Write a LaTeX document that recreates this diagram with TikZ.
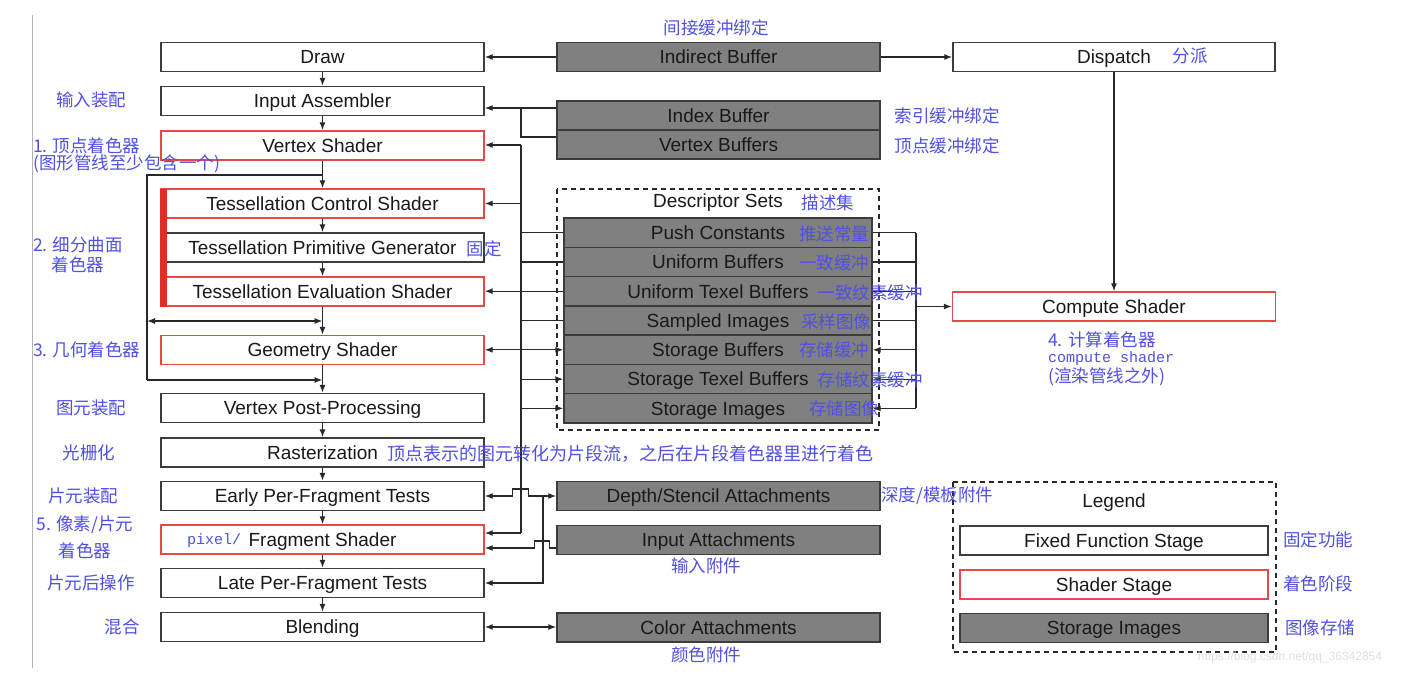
\documentclass[tikz,border=0pt]{standalone}
\usepackage{fontspec}
\setmainfont{Liberation Sans}
\newfontfamily\cjk{Noto Sans CJK SC}
\newfontfamily\monof{Liberation Mono}
\usetikzlibrary{arrows.meta}
\definecolor{annc}{RGB}{80,80,225}
\definecolor{stor}{RGB}{128,128,128}
\definecolor{shred}{RGB}{232,72,72}
\definecolor{barred}{RGB}{225,45,35}
\definecolor{ln}{RGB}{40,40,40}
\definecolor{bx}{RGB}{60,60,60}
\tikzset{
  box/.style={draw=bx, line width=1.4pt, minimum width=323pt, minimum height=29pt, inner sep=0pt, text height=13.6pt, text depth=0pt, font=\fontsize{19}{22}\selectfont, text=black!90},
  ffs/.style={box, fill=white},
  shs/.style={box, draw=shred, fill=white},
  sto/.style={box, fill=stor},
  row/.style={sto, minimum width=308pt, minimum height=29.3pt},
  ann/.style={font=\cjk\fontsize{17.5}{21}\selectfont, text=annc, inner sep=0pt},
  annm/.style={font=\monof\fontsize{15}{18}\selectfont, text=annc, inner sep=0pt},
  plain/.style={font=\fontsize{19}{22}\selectfont, text=black!90, inner sep=0pt},
  conn/.style={draw=ln, line width=1.2pt},
  arr/.style={conn, -{Latex[length=8pt,width=6pt]}},
  darr/.style={conn, {Latex[length=8pt,width=6pt]}-{Latex[length=8pt,width=6pt]}},
  dashbox/.style={draw=ln, line width=1.3pt, dash pattern=on 5pt off 4pt},
}
\begin{document}
\begin{tikzpicture}[x=1pt,y=-1pt]
\useasboundingbox (0,0) rectangle (1408,682);
\fill[white] (0,0) rectangle (1408,682);
\draw[gray!60, line width=1pt] (32,15) -- (32,668);

% pipeline
\node[ffs] (draw) at (322.5,57) {Draw};
\node[ffs] (ia) at (322.5,101) {Input Assembler};
\node[shs] (vs) at (322.5,145.5) {Vertex Shader};
\node[shs] (tcs) at (322.5,203.5) {Tessellation Control Shader};
\node[ffs] (tpg) at (322.5,247.5) {Tessellation Primitive Generator};
\node[shs] (tes) at (322.5,291.5) {Tessellation Evaluation Shader};
\node[shs] (gs) at (322.5,350) {Geometry Shader};
\node[ffs] (vpp) at (322.5,408) {Vertex Post-Processing};
\node[ffs] (rast) at (322.5,452.5) {Rasterization};
\node[ffs] (epf) at (322.5,496) {Early Per-Fragment Tests};
\node[shs] (fs) at (322.5,539.5) {Fragment Shader};
\node[ffs] (lpf) at (322.5,583) {Late Per-Fragment Tests};
\node[ffs] (blend) at (322.5,627) {Blending};
\fill[barred] (160,188.5) rectangle (167,306.5);

\foreach \a/\b in {draw/ia, ia/vs, vs/tcs, tcs/tpg, tpg/tes, tes/gs, gs/vpp, vpp/rast, rast/epf, epf/fs, fs/lpf, lpf/blend}
  \draw[arr] (\a) -- (\b);

% bypass
\coordinate (byA) at (147,175);
\coordinate (byB) at (147,380);
\coordinate (byC) at (147,321);
\draw[conn] (byA -| vs.south) -- (byA) -- (byB);
\draw[arr] (byB) -- (byB -| vs.south);
\draw[darr] (byC) -- (byC -| vs.south);

% top buffers
\node[sto] (ib) at (718.5,57) {Indirect Buffer};
\node[ffs, minimum width=322pt] (disp) at (1114,57) {Dispatch};
\draw[arr] (ib) -- (draw);
\draw[arr] (ib) -- (disp);
\node[sto] (ibuf) at (718.5,115.5) {Index Buffer};
\node[sto] (vbuf) at (718.5,144.5) {Vertex Buffers};
\coordinate (j1) at (521,108);
\coordinate (j2) at (521,137);
\draw[arr] (ibuf.west |- j1) -- (ia.east |- j1);
\draw[conn] (vbuf.west |- j2) -- (j2) -- (j1);

% descriptor sets
\draw[dashbox] (557,189) rectangle (879,430);
\node[plain] (dslabel) at (718,203) {Descriptor Sets};
\node[row] (r1) at (718,232.6) {Push Constants};
\node[row] (r2) at (718,261.9) {Uniform Buffers};
\node[row] (r3) at (718,291.2) {Uniform Texel Buffers};
\node[row] (r4) at (718,320.5) {Sampled Images};
\node[row] (r5) at (718,349.8) {Storage Buffers};
\node[row] (r6) at (718,379.1) {Storage Texel Buffers};
\node[row] (r7) at (718,408.4) {Storage Images};

% left bus
\coordinate (busT) at (521,145);
\coordinate (busB) at (521,533);
\draw[conn] (busT) -- (busB);
\draw[arr] (busT) -- (busT -| vs.east);
\draw[arr] (tcs.east -| busT) -- (tcs.east);
\draw[arr] (busB) -- (busB -| fs.east);
\foreach \r in {r1,r2,r4} \draw[conn] (\r.west -| busT) -- (\r.west);
\draw[arr] (r3.west) -- (r3.west -| tes.east);
\draw[darr] (r5.west -| gs.east) -- (r5.west);
\foreach \r in {r6,r7} \draw[arr] (\r.west -| busT) -- (\r.west);

% right bus and compute
\node[shs, minimum width=323pt] (cs) at (1114,306.5) {Compute Shader};
\draw[arr] (disp) -- (cs);
\coordinate (rbT) at (916,232.6);
\coordinate (rbB) at (916,408.4);
\draw[conn] (rbT) -- (rbB);
\foreach \r in {r1,r2,r3,r4} \draw[conn] (\r.east) -- (\r.east -| rbT);
\foreach \r in {r5,r6,r7} \draw[arr] (\r.east -| rbT) -- (\r.east);
\draw[arr] (cs.west -| rbT) -- (cs.west);

% attachments
\node[sto] (ds) at (718.5,496) {Depth/Stencil Attachments};
\node[sto] (ina) at (718.5,540) {Input Attachments};
\node[sto] (ca) at (718.5,627.5) {Color Attachments};
\draw[darr] (epf.east) -- ++(28,0) -- ++(0,-7) -- ++(16,0) -- ++(0,7) -- (ds.west);
\coordinate (j3) at (543,496);
\draw[arr] (j3) -- (j3 |- lpf.east) -- (lpf.east);
\coordinate (inaout) at ([yshift=-8pt]ina.west);
\draw[arr] (inaout) -- ++(-7,0) -- ++(0,-7) -- ++(-15,0) -- ++(0,7) -- (inaout -| fs.east);
\draw[darr] (blend.east) -- (blend.east -| ca.west);

% legend
\draw[dashbox] (953,482) rectangle (1276,652);
\node[plain] (leg) at (1114,503) {Legend};
\node[ffs, minimum width=308pt] (lf) at (1114,540.5) {Fixed Function Stage};
\node[shs, minimum width=308pt] (ls) at (1114,584.5) {Shader Stage};
\node[sto, minimum width=308pt] (lst) at (1114,628) {Storage Images};

% annotations
\node[ann] (a1) at (716,28) {间接缓冲绑定};
\node[ann] (a2) at (1190,56) {分派};
\node[ann] (a3) at (947,116) {索引缓冲绑定};
\node[ann] (a4) at (947,146) {顶点缓冲绑定};
\node[ann] (a5) at (828,203) {描述集};
\node[ann] (a6) at (484,249) {固定};
\node[ann] (a7) at (834,234) {推送常量};
\node[ann] (a8) at (834,263) {一致缓冲};
\node[ann] (a9) at (870,293) {一致纹素缓冲};
\node[ann] (a10) at (836,322) {采样图像};
\node[ann] (a11) at (834,350) {存储缓冲};
\node[ann] (a12) at (870,380) {存储纹素缓冲};
\node[ann] (a13) at (844,409) {存储图像};
\node[ann, anchor=west, font=\cjk\fontsize{18}{21}\selectfont] (a14) at (387,454) {顶点表示的图元转化为片段流，之后在片段着色器里进行着色};
\node[ann, anchor=west] (a15) at (881,496) {深度/模板附件};
\node[ann] (a16) at (706,566) {输入附件};
\node[ann] (a17) at (706,655) {颜色附件};
\node[ann] (a18) at (1318,540) {固定功能};
\node[ann] (a19) at (1318,584) {着色阶段};
\node[ann] (a20) at (1320,628) {图像存储};
\node[ann, anchor=west] (a21) at (1048,340) {4. 计算着色器};
\node[annm, anchor=west] (a22) at (1048,359) {compute shader};
\node[ann, anchor=west] (a23) at (1048,377) {(渲染管线之外)};
\node[annm, anchor=west] (a24) at (187,541) {pixel/};

% left labels
\node[ann] (l1) at (91,100) {输入装配};
\node[ann, anchor=west] (l2) at (33,146) {1. 顶点着色器};
\node[ann, anchor=west] (l3) at (33,164) {(图形管线至少包含一个)};
\node[ann] (l4) at (78,245) {2. 细分曲面};
\node[ann] (l5) at (78,265) {着色器};
\node[ann, anchor=west] (l6) at (33,350) {3. 几何着色器};
\node[ann] (l7) at (91,408) {图元装配};
\node[ann] (l8) at (89,453) {光栅化};
\node[ann] (l9) at (83,496) {片元装配};
\node[ann] (l10) at (85,525) {5. 像素/片元};
\node[ann] (l11) at (85,551) {着色器};
\node[ann] (l12) at (91,583) {片元后操作};
\node[ann] (l13) at (122,627) {混合};

% watermark
\node[font=\fontsize{12}{14}\selectfont, text=gray!25, inner sep=0pt] (wm) at (1290,657) {https://blog.csdn.net/qq\_36342854};
\end{tikzpicture}
\end{document}
